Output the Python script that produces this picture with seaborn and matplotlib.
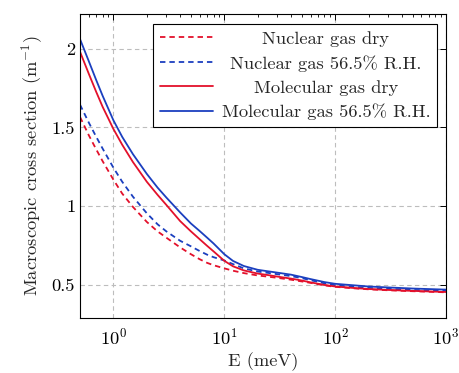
import numpy as np
import pandas as pd
import matplotlib
matplotlib.use("Agg")
import matplotlib.pyplot as plt
import seaborn as sns
from matplotlib.ticker import LogLocator, LogFormatterMathtext, NullFormatter
from matplotlib.offsetbox import VPacker, DrawingArea

energy = [0.5, 0.6, 0.7, 0.8, 1.0, 1.2, 1.5, 2.0, 2.5, 3.0, 4.0, 5.0, 6.0, 7.0, 8.0,
          10, 12, 15, 20, 25, 30, 40, 50, 60, 80, 100, 150, 200, 300, 500, 1000]
nuclear_dry = [1.566, 1.45, 1.36, 1.285, 1.168, 1.08, 0.995, 0.90, 0.84, 0.80, 0.738,
               0.695, 0.663, 0.64, 0.625, 0.605, 0.59, 0.575, 0.56, 0.552, 0.545,
               0.533, 0.522, 0.513, 0.497, 0.488, 0.478, 0.472, 0.466, 0.46, 0.453]
nuclear_rh = [1.644, 1.53, 1.44, 1.365, 1.244, 1.155, 1.06, 0.955, 0.885, 0.84, 0.78,
              0.745, 0.715, 0.692, 0.676, 0.655, 0.632, 0.605, 0.585, 0.576, 0.568,
              0.556, 0.543, 0.53, 0.51, 0.498, 0.487, 0.481, 0.475, 0.468, 0.462]
molecular_dry = [1.98, 1.84, 1.725, 1.63, 1.49, 1.39, 1.28, 1.155, 1.072, 1.008, 0.905,
                 0.84, 0.79, 0.748, 0.713, 0.653, 0.618, 0.592, 0.572, 0.562, 0.553,
                 0.54, 0.528, 0.516, 0.50, 0.49, 0.48, 0.474, 0.468, 0.462, 0.455]
molecular_rh = [2.06, 1.92, 1.80, 1.70, 1.545, 1.44, 1.33, 1.205, 1.118, 1.055, 0.96,
                0.89, 0.842, 0.80, 0.763, 0.695, 0.652, 0.62, 0.596, 0.586, 0.578,
                0.565, 0.55, 0.537, 0.518, 0.507, 0.497, 0.49, 0.484, 0.477, 0.47]

labels = ["Nuclear gas dry", "Nuclear gas 56.5% R.H.",
          "Molecular gas dry", "Molecular gas 56.5% R.H."]
series = [nuclear_dry, nuclear_rh, molecular_dry, molecular_rh]

df = pd.concat([pd.DataFrame({"E": energy, "sigma": s, "series": l})
                for s, l in zip(series, labels)], ignore_index=True)

RED = "#e3102b"
BLUE = "#1b3fbf"
palette = {labels[0]: RED, labels[1]: BLUE, labels[2]: RED, labels[3]: BLUE}
dashes = {labels[0]: (3, 2.2), labels[1]: (3, 2.2), labels[2]: "", labels[3]: ""}

FS = 13.3
sns.set_theme(style="white")
plt.rcParams.update({
    "font.family": ["cmr10", "DejaVu Serif"],
    "mathtext.fontset": "cm",
    "axes.formatter.use_mathtext": True,
    "axes.unicode_minus": False,
    "font.size": FS,
})

DPI = 100
fig = plt.figure(figsize=(4.6, 3.73), dpi=DPI)
ax = fig.add_axes([0.174, 0.1475, 0.7956, 0.815])

sns.lineplot(data=df, x="E", y="sigma", hue="series", style="series",
             hue_order=labels, style_order=labels, palette=palette,
             dashes=dashes, linewidth=1.3, ax=ax, sort=False)

ax.set_xscale("log")
ax.set_xlim(0.5, 1000)
ax.set_ylim(0.29, 2.22)
ax.set_yticks([0.5, 1, 1.5, 2])
ax.set_yticklabels(["0.5", "1", "1.5", "2"])
ax.xaxis.set_major_locator(LogLocator(base=10, numticks=10))
ax.xaxis.set_major_formatter(LogFormatterMathtext())
ax.xaxis.set_minor_locator(LogLocator(base=10, subs=np.arange(2, 10), numticks=20))
ax.xaxis.set_minor_formatter(NullFormatter())

ax.grid(True, which="major", color="#bdbdbd", linestyle=(0, (4, 3)), linewidth=0.8)
for sp in ax.spines.values():
    sp.set_color("black")
    sp.set_linewidth(0.8)
ax.tick_params(which="both", direction="in", top=True, right=True, colors="black",
               labelsize=FS)
ax.tick_params(which="major", length=4, width=0.7)
ax.tick_params(which="minor", length=2.2, width=0.6)
ax.tick_params(axis="x", pad=6)

ax.set_xlabel("E (meV)", fontsize=FS, labelpad=4)
ax.set_ylabel("Macroscopic cross section (m$^{-1}$)", fontsize=FS, labelpad=5)

leg = ax.legend(loc="upper right", bbox_to_anchor=(0.976, 0.968), fontsize=FS,
                frameon=True, fancybox=False, framealpha=1, edgecolor="black",
                handlelength=2.9, handletextpad=0.45, borderpad=0.38,
                labelspacing=0.44, borderaxespad=0)
leg.get_frame().set_linewidth(0.8)

# centre the legend texts (as in the reference) using an invisible spacer
fig.canvas.draw()
renderer = fig.canvas.get_renderer()
texts = leg.get_texts()
maxw = max(t.get_window_extent(renderer).width for t in texts) * 72.0 / DPI
for col in leg._legend_handle_box.get_children():
    for row in col.get_children():
        kids = row._children
        tb = kids[1]
        kids[1] = VPacker(children=[tb, DrawingArea(maxw, 0)], align="center",
                          pad=0, sep=0)

fig.savefig("out.png", dpi=DPI)
